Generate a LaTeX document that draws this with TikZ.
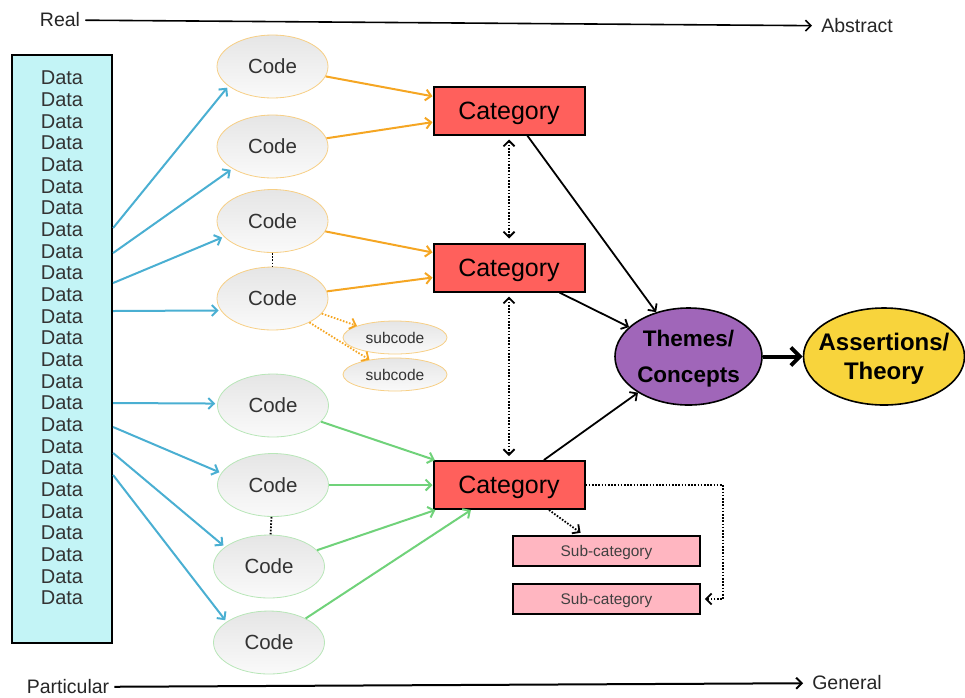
\documentclass[tikz,border=0pt]{standalone}
\usepackage{fontspec}
\setmainfont{Liberation Sans}
\usetikzlibrary{shapes.geometric,arrows.meta}

\definecolor{datacyan}{HTML}{C3F4F6}
\definecolor{linkblue}{HTML}{4AAFD2}
\definecolor{linkorange}{HTML}{F5A623}
\definecolor{linkgreen}{HTML}{70D27A}
\definecolor{rimorange}{HTML}{F7CF85}
\definecolor{rimgreen}{HTML}{B8E6B8}
\definecolor{catred}{HTML}{FF605C}
\definecolor{subpink}{HTML}{FFB6C1}
\definecolor{themepurple}{HTML}{A066B9}
\definecolor{theoryyellow}{HTML}{F8D43C}

\begin{document}
\begin{tikzpicture}[x=1pt, y=-1pt, >={Straight Barb[length=5.5pt,width=11pt]},
    codeshape/.style={ellipse, minimum width=111pt, minimum height=63pt, inner sep=0pt,
        top color=black!10, bottom color=black!2, text=black!80,
        font=\fontsize{20.5}{24}\selectfont, line width=0.8pt},
    orangecode/.style={codeshape, draw=rimorange},
    greencode/.style={codeshape, draw=rimgreen},
    subcodeshape/.style={codeshape, draw=rimorange, minimum width=104pt, minimum height=33pt,
        font=\fontsize{15.5}{18}\selectfont},
    catbox/.style={rectangle, draw, line width=2pt, fill=catred, minimum width=151pt,
        minimum height=48pt, text depth=0pt, font=\fontsize{25}{30}\selectfont},
    subcatbox/.style={rectangle, draw, line width=1.8pt, fill=subpink, minimum width=187pt,
        minimum height=30pt, text depth=0pt, text=black!75, font=\fontsize{15.4}{18}\selectfont},
    bigoval/.style={ellipse, draw, line width=1.6pt, inner sep=-25pt, align=center},
    axislabel/.style={inner sep=5pt, font=\fontsize{19.5}{22}\selectfont, text=black!85},
    datalabel/.style={inner sep=0pt, text=black!80, font=\fontsize{20}{22}\selectfont},
    bluelink/.style={->, linkblue, line width=2pt, shorten >=2pt},
    orangelink/.style={->, linkorange, line width=2pt},
    greenlink/.style={->, linkgreen, line width=2pt},
    blacklink/.style={->, line width=1.8pt},
    dotlink/.style={line width=1.8pt, dash pattern=on 1.6pt off 1.6pt}
]
    \useasboundingbox (0,0) rectangle (965,697);

    % axes along the top and bottom
    \node[axislabel] (real) at (60,20) {Real};
    \node[axislabel] (abstract) at (857,26) {Abstract};
    \node[axislabel] (particular) at (68,687) {Particular};
    \node[axislabel] (general) at (847,683) {General};
    \draw[->, line width=1.6pt, shorten >=4pt] (real) -- (abstract);
    \draw[->, line width=2pt, shorten >=4pt] (particular) -- (general);

    % raw data column
    \node[rectangle, draw, line width=2.2pt, fill=datacyan, minimum width=100pt,
        minimum height=588pt] (data) at (62,349) {};
    \foreach \i in {0,...,24}
        \node[datalabel] (d\i) at (62,{78+21.67*\i}) {Data};

    % codes
    \node[orangecode] (code1) at (272.5,66.5) {Code};
    \node[orangecode] (code2) at (272.5,146.5) {Code};
    \node[orangecode] (code3) at (272.5,221) {Code};
    \node[orangecode] (code4) at (272.5,298.5) {Code};
    \node[greencode] (code5) at (273,405.5) {Code};
    \node[greencode] (code6) at (273,485) {Code};
    \node[greencode] (code7) at (269,566.5) {Code};
    \node[greencode] (code8) at (269,642.5) {Code};
    \node[subcodeshape] (sub1) at (395,337.5) {subcode};
    \node[subcodeshape] (sub2) at (395,374.5) {subcode};

    % categories
    \node[catbox] (cat1) at (509,110.5) {Category};
    \node[catbox] (cat2) at (509,267.5) {Category};
    \node[catbox] (cat3) at (509,485) {Category};
    \node[subcatbox] (subcat1) at (606.5,551) {Sub-category};
    \node[subcatbox] (subcat2) at (606.5,599) {Sub-category};

    % themes and theory
    \node[bigoval, fill=themepurple, minimum width=147pt, minimum height=97pt, text depth=0pt,
        font=\bfseries\fontsize{22.5}{36}\selectfont] (themes) at (688.5,356.5) {Themes/\\Concepts};
    \node[bigoval, fill=theoryyellow, minimum width=161pt, minimum height=97pt, text depth=0pt,
        font=\bfseries\fontsize{24}{29}\selectfont] (theory) at (884,356.5) {Assertions/\\Theory};

    % data -> codes
    \foreach \y/\n/\a in {228/code1/204, 253/code2/209, 283/code3/198, 311/code4/193,
                          403/code5/178, 427/code6/167, 453/code7/156, 475/code8/154}
        \draw[bluelink] (data.east |- 0,\y) -- (\n.\a);

    % codes -> categories
    \draw[orangelink] (code1) -- (cat1);
    \draw[orangelink] (code2) -- (cat1);
    \draw[orangelink] (code3) -- (cat2);
    \draw[orangelink] (code4) -- (cat2);
    \draw[->, linkorange, dotlink] (code4.-17) -- (sub1.163);
    \draw[->, linkorange, dotlink] (code4.-33) -- (sub2.150);
    \draw[greenlink] (code5) -- (cat3);
    \draw[greenlink] (code6) -- (cat3);
    \draw[greenlink] (code7) -- (cat3);
    \draw[greenlink] (code8) -- (cat3);
    \draw[dotlink] (code3) -- (code4);
    \draw[dotlink] (code6) -- (code7);

    % categories -> themes
    \draw[<->, dotlink, shorten <=4pt, shorten >=4pt] (cat1) -- (cat2);
    \draw[<->, dotlink, shorten <=4pt, shorten >=4pt] (cat2) -- (cat3);
    \draw[blacklink] (cat1) -- (themes);
    \draw[blacklink] (cat2) -- (themes);
    \draw[blacklink] (cat3) -- (themes);
    \draw[->, dotlink, shorten >=4pt] (cat3.-32) -- (subcat1.145);
    \coordinate (elbow) at (723,485);
    \draw[->, dotlink, shorten >=4pt] (cat3.east) -- (elbow) |- (subcat2.east);

    \draw[->, line width=4pt, >={Straight Barb[length=9pt,width=18pt]}] (themes) -- (theory);
\end{tikzpicture}
\end{document}
